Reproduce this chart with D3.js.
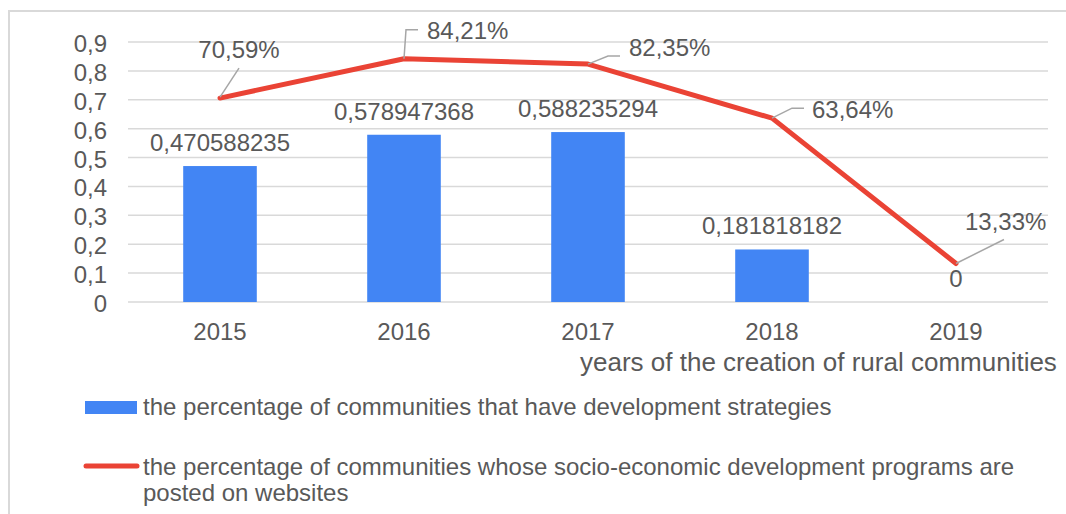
<!DOCTYPE html>
<html>
<head>
<meta charset="utf-8">
<script src="https://cdn.jsdelivr.net/npm/d3@7"></script>
<style>
  html, body { margin: 0; padding: 0; background: #fff; overflow: hidden; }
  svg { display: block; font-family: "Liberation Sans", Arial, sans-serif; }
</style>
</head>
<body>
<svg id="chart" width="1066" height="514"></svg>
<script>
const years = ["2015", "2016", "2017", "2018", "2019"];
const strategyShare = [0.470588235, 0.578947368, 0.588235294, 0.181818182, 0];
const strategyLabels = ["0,470588235", "0,578947368", "0,588235294", "0,181818182", "0"];
const websiteShare = [0.7059, 0.8421, 0.8235, 0.6364, 0.1333];
const websiteLabels = ["70,59%", "84,21%", "82,35%", "63,64%", "13,33%"];
const yTicks = [0, 0.1, 0.2, 0.3, 0.4, 0.5, 0.6, 0.7, 0.8, 0.9];
const xTitle = "years of the creation of rural communities";
const legendItems = [
  ["the percentage of communities that have development strategies"],
  ["the percentage of communities whose socio-economic development programs are", "posted on websites"]
];

const svg = d3.select("#chart");
const textColor = "#595959";
const fs = 24;

// border
svg.append("rect").attr("x", 9).attr("y", 11).attr("width", 1100).attr("height", 600)
  .attr("fill", "none").attr("stroke", "#d9d9d9").attr("stroke-width", 2);

const x = d3.scaleBand().domain(years).range([128, 1048]).paddingInner(0.6).paddingOuter(0.3);
const y = d3.scaleLinear().domain([0, 0.9]).range([302, 42]);
const cx = d => x(d) + x.bandwidth() / 2;

// gridlines
svg.append("g").selectAll("line").data(yTicks).join("line")
  .attr("x1", 128).attr("x2", 1048)
  .attr("y1", d => y(d)).attr("y2", d => y(d))
  .attr("stroke", "#d9d9d9").attr("stroke-width", 1.5);

// y axis labels
svg.append("g").selectAll("text").data(yTicks).join("text")
  .attr("x", 107).attr("y", d => y(d) + 10)
  .attr("text-anchor", "end").attr("fill", textColor).attr("font-size", fs)
  .text(d => d === 0 ? "0" : d3.format(".1f")(d).replace(".", ","));

// x labels
svg.append("g").selectAll("text").data(years).join("text")
  .attr("x", d => cx(d)).attr("y", 340)
  .attr("text-anchor", "middle").attr("fill", textColor).attr("font-size", fs)
  .text(d => d);

svg.append("text").attr("x", 580).attr("y", 371).attr("fill", textColor).attr("font-size", 26)
  .text(xTitle);

// bars
svg.append("g").selectAll("rect").data(years).join("rect")
  .attr("x", d => x(d)).attr("width", x.bandwidth())
  .attr("y", (d, i) => y(strategyShare[i]))
  .attr("height", (d, i) => y(0) - y(strategyShare[i]))
  .attr("fill", "#4285F4");

svg.append("g").selectAll("text").data(years).join("text")
  .attr("x", d => cx(d)).attr("y", (d, i) => y(strategyShare[i]) - 15)
  .attr("text-anchor", "middle").attr("fill", textColor).attr("font-size", fs)
  .text((d, i) => strategyLabels[i]);

// line
const pts = years.map((d, i) => [cx(d), y(websiteShare[i])]);
svg.append("path").attr("d", d3.line()(pts))
  .attr("fill", "none").attr("stroke", "#EA4335").attr("stroke-width", 5)
  .attr("stroke-linejoin", "round").attr("stroke-linecap", "round");

// leader lines and labels (offsets relative to the point)
const leaders = [
  { path: [[0, -1], [19, -30]], tx: 19, ty: -40, anchor: "middle" },
  { path: [[0, 0], [2, -29], [14, -29]], tx: 23, ty: -20, anchor: "start" },
  { path: [[0, 0], [20, -8], [32, -8]], tx: 41, ty: -8, anchor: "start" },
  { path: [[0, 0], [20, -10], [32, -10]], tx: 40, ty: 0, anchor: "start" },
  { path: [[0, 0], [48, -24]], tx: 9, ty: -33, anchor: "start" }
];
leaders.forEach((l, i) => {
  const [px, py] = pts[i];
  svg.append("path").attr("d", d3.line()(l.path.map(p => [px + p[0], py + p[1]])))
    .attr("fill", "none").attr("stroke", "#a6a6a6").attr("stroke-width", 1.5);
  svg.append("text").attr("x", px + l.tx).attr("y", py + l.ty)
    .attr("text-anchor", l.anchor).attr("fill", textColor).attr("font-size", fs)
    .text(websiteLabels[i]);
});

// legend
svg.append("rect").attr("x", 85).attr("y", 401).attr("width", 52).attr("height", 13).attr("fill", "#4285F4");
svg.append("line").attr("x1", 86).attr("x2", 137).attr("y1", 466).attr("y2", 466)
  .attr("stroke", "#EA4335").attr("stroke-width", 5).attr("stroke-linecap", "round");
const legY = [[415], [475, 501]];
legendItems.forEach((lines, i) => {
  lines.forEach((t, j) => {
    svg.append("text").attr("x", 143).attr("y", legY[i][j]).attr("fill", textColor).attr("font-size", fs).text(t);
  });
});
</script>
</body>
</html>
